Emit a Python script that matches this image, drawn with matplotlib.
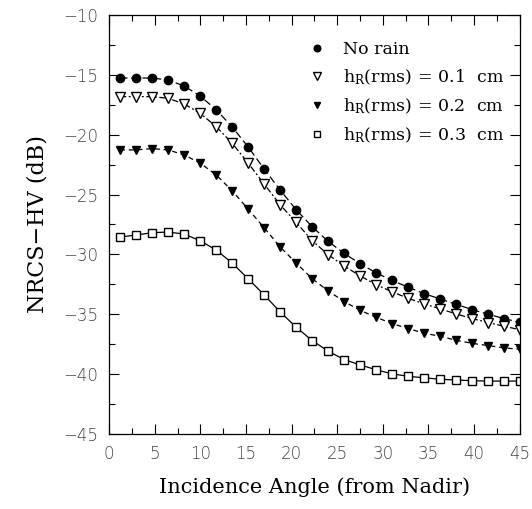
import numpy as np
import matplotlib
matplotlib.use("Agg")
import matplotlib.pyplot as plt
from matplotlib.ticker import MultipleLocator

plt.rcParams['mathtext.fontset'] = 'dejavuserif'

# incidence angles (deg)
angle = [1.2, 2.96, 4.71, 6.47, 8.22, 9.98, 11.73, 13.49, 15.24, 17.0,
         18.75, 20.51, 22.26, 24.02, 25.77, 27.53, 29.28, 31.04, 32.79, 34.55,
         36.3, 38.06, 39.81, 41.57, 43.32, 45.0]

no_rain = [-15.28, -15.28, -15.28, -15.44, -15.94, -16.78, -17.92, -19.36, -21.03, -22.88,
           -24.63, -26.28, -27.69, -28.92, -29.92, -30.78, -31.55, -32.17, -32.75, -33.28,
           -33.72, -34.17, -34.61, -35.0, -35.36, -35.67]
rain_01 = [-16.83, -16.83, -16.83, -16.97, -17.44, -18.22, -19.33, -20.72, -22.38, -24.13,
           -25.86, -27.33, -28.86, -30.03, -30.97, -31.8, -32.53, -33.13, -33.67, -34.13,
           -34.55, -34.97, -35.36, -35.69, -36.0, -36.28]
rain_02 = [-21.28, -21.28, -21.17, -21.28, -21.69, -22.38, -23.36, -24.69, -26.22, -27.78,
           -29.38, -30.72, -32.03, -33.05, -33.94, -34.67, -35.25, -35.78, -36.19, -36.58,
           -36.83, -37.17, -37.42, -37.61, -37.8, -37.92]
rain_03 = [-28.55, -28.38, -28.19, -28.13, -28.3, -28.86, -29.63, -30.72, -32.03, -33.38,
           -34.8, -36.08, -37.19, -38.08, -38.78, -39.22, -39.63, -39.97, -40.17, -40.3,
           -40.42, -40.48, -40.54, -40.57, -40.57, -40.57]

labels = ["No rain",
          r"h$_{\mathrm{R}}$(rms)$\,=\,$0.1  cm",
          r"h$_{\mathrm{R}}$(rms)$\,=\,$0.2  cm",
          r"h$_{\mathrm{R}}$(rms)$\,=\,$0.3  cm"]

fig = plt.figure(figsize=(5.32, 5.09), dpi=100)
ax = fig.add_axes([0.205, 0.147, 0.772, 0.824])

ax.plot(angle, no_rain, color='k', lw=0.9, dashes=(6, 3), marker='o', ms=6,
        mfc='k', mec='k', label=labels[0])
ax.plot(angle, rain_01, color='k', lw=0.9, dashes=(5, 2, 1.5, 2), marker='v', ms=7,
        mfc='white', mec='k', mew=1.0, label=labels[1])
ax.plot(angle, rain_02, color='k', lw=0.9, dashes=(4, 3), marker='v', ms=6,
        mfc='k', mec='k', label=labels[2])
ax.plot(angle, rain_03, color='k', lw=0.9, marker='s', ms=6,
        mfc='white', mec='k', mew=1.0, label=labels[3])

ax.set_xlim(0, 45)
ax.set_ylim(-45, -10)
ax.xaxis.set_major_locator(MultipleLocator(5))
ax.xaxis.set_minor_locator(MultipleLocator(2.5))
ax.yaxis.set_major_locator(MultipleLocator(5))
ax.yaxis.set_minor_locator(MultipleLocator(2.5))
ax.tick_params(which='both', direction='in', top=True, right=True, width=0.8)
ax.tick_params(which='major', length=7, pad=8, labelsize=12)
ax.tick_params(which='minor', length=4)
for lab in ax.get_xticklabels() + ax.get_yticklabels():
    lab.set_fontfamily('DejaVu Sans')
    lab.set_fontweight('light')
    lab.set_color('#444444')
for s in ax.spines.values():
    s.set_linewidth(0.9)

ax.set_xlabel("Incidence Angle (from Nadir)", family='DejaVu Serif', fontsize=15, labelpad=10)
ax.set_ylabel("NRCS\u2212HV (dB)", family='DejaVu Serif', fontsize=16, labelpad=10)

leg = ax.legend(loc='upper right', bbox_to_anchor=(1.0, 0.975), frameon=False,
                prop={'family': 'DejaVu Serif', 'size': 12.5}, handlelength=1.2,
                handletextpad=0.9, labelspacing=0.55, markerscale=0.8)
for h in leg.legend_handles:
    h.set_linestyle('none')

fig.savefig("out.png", dpi=100)
